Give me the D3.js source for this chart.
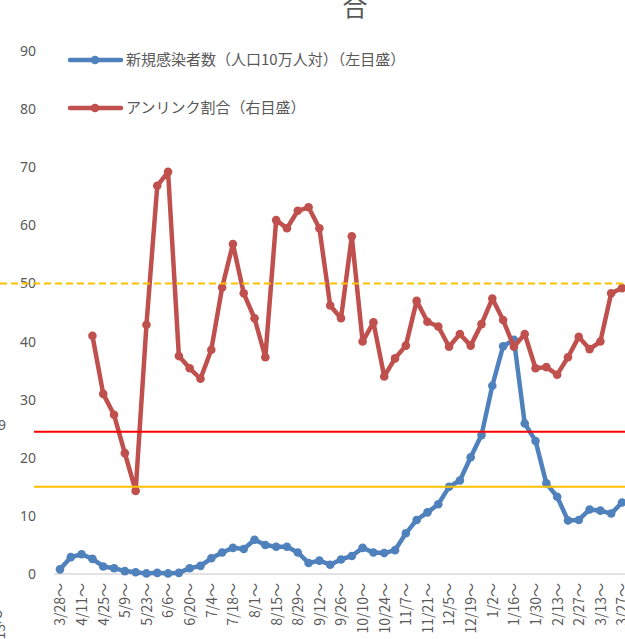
<!DOCTYPE html>
<html>
<head>
<meta charset="utf-8">
<script src="https://cdn.jsdelivr.net/npm/d3@7"></script>
<style>
    body { margin: 0; background: #fff; }
    svg { display: block; font-family: "Noto Sans CJK JP", "Noto Sans", sans-serif; }
</style>
</head>
<body>
<svg id="chart"></svg>
<script>
// weekly start dates
var weeks = ["3/28", "4/4", "4/11", "4/18", "4/25", "5/2", "5/9", "5/16", "5/23", "5/30",
    "6/6", "6/13", "6/20", "6/27", "7/4", "7/11", "7/18", "7/25", "8/1", "8/8",
    "8/15", "8/22", "8/29", "9/5", "9/12", "9/19", "9/26", "10/3", "10/10", "10/17",
    "10/24", "10/31", "11/7", "11/14", "11/21", "11/28", "12/5", "12/12", "12/19", "12/26",
    "1/2", "1/9", "1/16", "1/23", "1/30", "2/6", "2/13", "2/20", "2/27", "3/6",
    "3/13", "3/20", "3/27"];

// 新規感染者数（人口10万人対）
var newCases = [0.8, 2.9, 3.4, 2.6, 1.3, 1.0, 0.5, 0.3, 0.1, 0.2,
    0.1, 0.2, 1.0, 1.4, 2.7, 3.7, 4.5, 4.3, 5.9, 5.0,
    4.7, 4.7, 3.7, 1.9, 2.3, 1.6, 2.5, 3.1, 4.5, 3.7,
    3.6, 4.1, 7.0, 9.3, 10.6, 12.0, 15.0, 16.1, 20.1, 23.9,
    32.4, 39.2, 40.3, 25.9, 22.9, 15.6, 13.3, 9.2, 9.3, 11.1,
    10.9, 10.4, 12.3];

// アンリンク割合
var unlinked = [null, null, null, 41.0, 31.0, 27.4, 20.8, 14.3, 42.9, 66.8,
    69.2, 37.5, 35.4, 33.6, 38.6, 49.3, 56.8, 48.3, 44.0, 37.3,
    60.9, 59.5, 62.5, 63.1, 59.5, 46.2, 44.0, 58.1, 40.0, 43.3,
    34.0, 37.1, 39.3, 47.0, 43.4, 42.6, 39.1, 41.3, 39.3, 43.0,
    47.4, 43.7, 39.1, 41.3, 35.4, 35.6, 34.3, 37.3, 40.8, 38.7,
    40.0, 48.3, 49.2];

var leftTicks = [0, 10, 20, 30, 40, 50, 60, 70, 80, 90];
var dashedRef = [50];
var solidRefs = [{ v: 24.5, c: "#FF0000" }, { v: 15, c: "#FFC000" }];

var svgWidth = 625, svgHeight = 639;
var svg = d3.select("#chart").attr("width", svgWidth).attr("height", svgHeight);
var textColor = "#595959";

var x = d3.scalePoint().domain(weeks).range([60, 622]);
var y = d3.scaleLinear().domain([0, 90]).range([574, 51]);
var y2 = d3.scaleLinear().domain([0, 90]).range([574, 51]);

// title (only last char visible)
svg.append("text").attr("x", 355).attr("y", 16).attr("text-anchor", "middle")
    .style("font-size", "25px").attr("fill", textColor).text("合");

// fragments at left edge
svg.append("text").attr("x", 6).attr("y", 430).attr("text-anchor", "end")
    .style("font-size", "14px").attr("fill", textColor).text("9");
svg.append("text").attr("transform", "translate(5,610) rotate(-90)").attr("text-anchor", "end")
    .style("font-size", "14px").attr("fill", textColor).text("1/13～");

// x axis baseline
svg.append("line").attr("x1", 54).attr("x2", 625).attr("y1", y(0)).attr("y2", y(0))
    .attr("stroke", "#D9D9D9").attr("stroke-width", 1.5);

// x tick labels (every other week)
var xAxis = d3.axisBottom(x).tickSize(0)
    .tickValues(weeks.filter(function (d, i) { return i % 2 === 0; }))
    .tickFormat(function (d) { return d + "～"; });
var gx = svg.append("g").attr("transform", "translate(0," + y(0) + ")").call(xAxis);
gx.select(".domain").remove();
gx.selectAll("text")
    .attr("transform", "rotate(-90)")
    .attr("x", -9).attr("y", 0).attr("dy", "0.35em")
    .style("text-anchor", "end").style("font-size", "14px")
    .style("font-family", "\"Noto Sans CJK JP\", sans-serif")
    .attr("fill", textColor);

// left axis
var yAxis = d3.axisLeft(y).tickValues(leftTicks).tickSize(0).tickPadding(0);
var gy = svg.append("g").attr("transform", "translate(36,0)").call(yAxis);
gy.select(".domain").remove();
gy.selectAll("text").style("font-size", "14px").style("font-family", "\"Noto Sans\", sans-serif")
    .attr("fill", textColor);

// series
var blue = "#4F81BD", red = "#C0504D";

function drawSeries(vals, scale, color) {
    var pts = weeks.map(function (w, i) { return { w: w, v: vals[i] }; })
        .filter(function (d) { return d.v !== null; });
    var line = d3.line()
        .x(function (d) { return x(d.w); })
        .y(function (d) { return scale(d.v); });
    svg.append("path").datum(pts).attr("d", line)
        .attr("fill", "none").attr("stroke", color).attr("stroke-width", 4.5)
        .attr("stroke-linejoin", "round").attr("stroke-linecap", "round");
    svg.append("g").selectAll("circle").data(pts).enter().append("circle")
        .attr("cx", function (d) { return x(d.w); })
        .attr("cy", function (d) { return scale(d.v); })
        .attr("r", 4.3).attr("fill", color);
}
drawSeries(newCases, y, blue);
drawSeries(unlinked, y2, red);

// reference lines
svg.selectAll(".dref").data(dashedRef).enter().append("line")
    .attr("x1", 0).attr("x2", 625)
    .attr("y1", function (d) { return y2(d); }).attr("y2", function (d) { return y2(d); })
    .attr("stroke", "#FFC000").attr("stroke-width", 2).attr("stroke-dasharray", "7,4");
svg.selectAll(".sref").data(solidRefs).enter().append("line")
    .attr("x1", 34).attr("x2", 625)
    .attr("y1", function (d) { return y(d.v); }).attr("y2", function (d) { return y(d.v); })
    .attr("stroke", function (d) { return d.c; }).attr("stroke-width", 2);

// legend
var legend = [
    { name: "新規感染者数（人口10万人対）（左目盛）", color: blue, ly: 60 },
    { name: "アンリンク割合（右目盛）", color: red, ly: 108 }
];
var lg = svg.append("g").selectAll("g").data(legend).enter().append("g")
    .attr("transform", function (d) { return "translate(0," + d.ly + ")"; });
lg.append("line").attr("x1", 70).attr("x2", 121).attr("y1", 0).attr("y2", 0)
    .attr("stroke", function (d) { return d.color; }).attr("stroke-width", 4.5)
    .attr("stroke-linecap", "round");
lg.append("circle").attr("cx", 95).attr("cy", 0).attr("r", 4.3)
    .attr("fill", function (d) { return d.color; });
lg.append("text").attr("x", 126).attr("y", 0).attr("dy", "0.35em")
    .style("font-size", "15px").attr("fill", textColor)
    .text(function (d) { return d.name; });
</script>
</body>
</html>
